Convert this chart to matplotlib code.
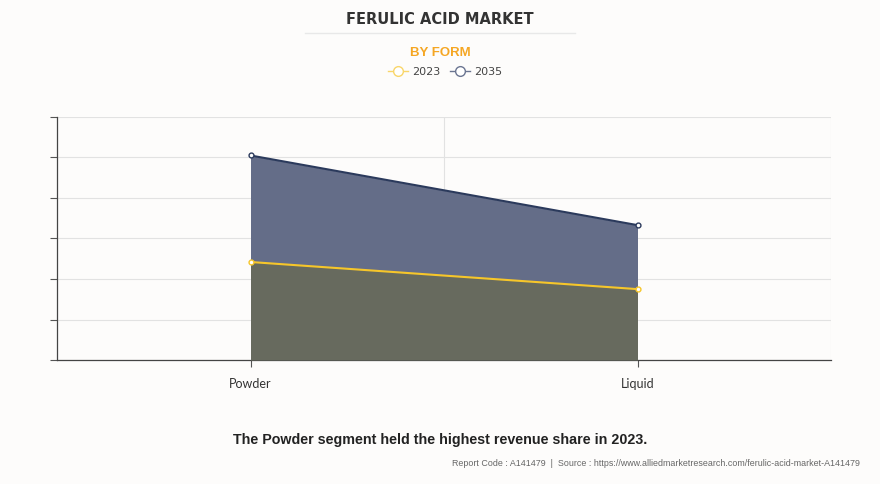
import matplotlib
matplotlib.use("Agg")
import matplotlib.pyplot as plt
from matplotlib.lines import Line2D

categories = ["Powder", "Liquid"]
values_2023 = [2.42, 1.75]
values_2035 = [5.05, 3.33]
series_labels = ["2023", "2035"]

bg = "#fdfcfb"
fig = plt.figure(figsize=(8.8, 4.84), dpi=100, facecolor=bg)
ax = fig.add_axes([57/880, 1-360/484, (831-57)/880, (360-117)/484], facecolor=bg)

x = list(range(len(categories)))
ax.fill_between(x, 0, values_2035, color="#646d88", zorder=2, linewidth=0)
ax.fill_between(x, 0, values_2023, color="#676a5e", zorder=3, linewidth=0)
ax.plot(x, values_2035, color="#2b3a5c", lw=1.5, marker="o", ms=3.5, mfc="white", mec="#2b3a5c", mew=1, zorder=5)
ax.plot(x, values_2023, color="#f6c62a", lw=1.5, marker="o", ms=3.5, mfc="white", mec="#f6c62a", mew=1, zorder=5)

ax.set_xlim(-0.5, 1.5)
ax.set_ylim(0, 6)
ax.set_yticks(range(7))
ax.set_yticklabels([])
ax.set_xticks(x)
ax.set_xticklabels(categories, fontsize=9, color="#333333", family="Lato")
ax.grid(axis="y", color="#e2e2e2", lw=0.8, zorder=0)
for xv in [0.5, 1.5]:
    ax.axvline(xv, color="#e2e2e2", lw=0.8, zorder=0)
ax.tick_params(axis="y", length=5, color="#555555", width=0.8)
ax.tick_params(axis="x", length=5, color="#555555", width=0.8, pad=8)
for s in ["top", "right"]:
    ax.spines[s].set_visible(False)
for s in ["left", "bottom"]:
    ax.spines[s].set_color("#444444")
    ax.spines[s].set_linewidth(0.9)

fig.text(440/880, 1-19/484, "FERULIC ACID MARKET", ha="center", va="center", fontsize=10.5,
         fontweight="bold", color="#333333", family="DejaVu Sans")
fig.add_artist(Line2D([305/880, 575/880], [1-33/484, 1-33/484], color="#e8e8e8", lw=1))
fig.text(440/880, 1-53.5/484, "BY FORM", ha="center", va="center", fontsize=9.5,
         fontweight="bold", color="#f5a623", family="Liberation Sans")

handles = [Line2D([], [], color="#f9d66a", marker="o", ms=7, mfc="white", mec="#f9d66a", lw=1),
           Line2D([], [], color="#6b7591", marker="o", ms=7, mfc="white", mec="#6b7591", lw=1)]
fig.legend(handles, series_labels, loc="center", bbox_to_anchor=(445/880, 1-72/484), ncol=2,
           frameon=False, fontsize=8, handlelength=1.8, handletextpad=0.4, columnspacing=0.8,
           labelcolor="#444444")

fig.text(440/880, 1-440/484, "The Powder segment held the highest revenue share in 2023.", ha="center",
         va="center", fontsize=10.3, fontweight="bold", color="#222222", family="Liberation Sans")
fig.text(860/880, 1-464/484, "Report Code : A141479  |  Source : https://www.alliedmarketresearch.com/ferulic-acid-market-A141479",
         ha="right", va="center", fontsize=6.4, color="#666666", family="Liberation Sans")

fig.savefig("out.png", dpi=100, facecolor=bg)
